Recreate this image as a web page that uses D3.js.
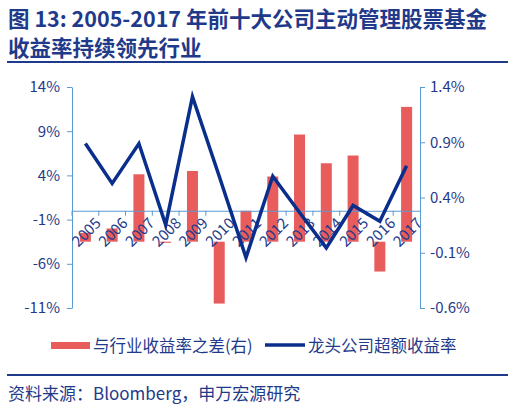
<!DOCTYPE html>
<html><head><meta charset="utf-8">
<script src="https://cdn.jsdelivr.net/npm/d3@7/dist/d3.min.js"></script>
<style>body{margin:0;background:#fff}text{font-family:"Noto Sans CJK SC","Noto Sans",sans-serif}</style>
</head><body><svg id="c" width="511" height="410"></svg>
<script>
const years = ["2005","2006","2007","2008","2009","2010","2011","2012","2013","2014","2015","2016","2017"];
const diffRight = [0.08,0.12,0.61,-0.01,0.64,-0.56,0.28,0.59,0.97,0.71,0.78,-0.27,1.22];
const excessLeft = [7.6,3.1,7.6,-1.6,12.9,3.9,-5.3,3.9,-0.2,-4.2,0.6,-1.2,5.1];
const leftTicks = [14,9,4,-1,-6,-11];
const rightTicks = [1.4,0.9,0.4,-0.1,-0.6];

const svg = d3.select("#c");
const navy = "#1f3a8a", axisC = "#5b9bd5";
const x = d3.scaleBand().domain(years).range([72,420]);
const yL = d3.scaleLinear().domain([-11,14]).range([308,87]);
const yR = d3.scaleLinear().domain([-0.6,1.4]).range([308,87]);

svg.append("text").attr("x",8).attr("y",27).attr("font-size",21.5).attr("font-weight","bold").attr("fill",navy).text("图 13: 2005-2017 年前十大公司主动管理股票基金");
svg.append("text").attr("x",8).attr("y",56).attr("font-size",21.5).attr("font-weight","bold").attr("fill",navy).text("收益率持续领先行业");
svg.append("line").attr("x1",7).attr("x2",508).attr("y1",62).attr("y2",62).attr("stroke",navy).attr("stroke-width",2);

svg.selectAll("rect.b").data(years).join("rect").attr("fill","#e85c5c")
  .attr("x",d=>x(d)+x.bandwidth()/2-5.5).attr("width",11)
  .attr("y",(d,i)=>Math.min(yR(diffRight[i]),yR(0))).attr("height",(d,i)=>Math.max(1,Math.abs(yR(diffRight[i])-yR(0))));

const la = svg.append("g").attr("transform","translate(72,0)").call(d3.axisLeft(yL).tickValues(leftTicks).tickFormat(d=>d+"%").tickSize(5).tickSizeOuter(0));
const ra = svg.append("g").attr("transform","translate(420,0)").call(d3.axisRight(yR).tickValues(rightTicks).tickFormat(d=>d.toFixed(1)+"%").tickSize(5).tickSizeOuter(0));
const xa = svg.append("g").attr("transform",`translate(0,${yL(0)})`).call(d3.axisBottom(x).tickSize(0).tickSizeOuter(0));
[la,ra,xa].forEach(g=>{g.select(".domain").attr("stroke",axisC);g.selectAll("line").attr("stroke",axisC);g.selectAll("text").attr("fill",navy).attr("font-size",15).attr("font-family","Noto Sans, sans-serif");});
la.selectAll("text").attr("x",-12);
ra.selectAll("text").attr("x",10);
xa.selectAll(".tick").each(function(){const t=d3.select(this).select("text");t.attr("y",0).attr("x",0).attr("text-anchor","end").attr("transform","translate(9,6) rotate(-45)").attr("dx",0).attr("dy","0.7em");});
svg.append("g").selectAll("line").data(years).join("line")
  .attr("x1",d=>x(d)).attr("x2",d=>x(d)).attr("y1",yL(0)).attr("y2",yL(0)+5).attr("stroke",axisC);

svg.append("path").datum(excessLeft).attr("fill","none").attr("stroke","#0a2e8c").attr("stroke-width",3.5).attr("stroke-linejoin","miter")
  .attr("d",d3.line().x((d,i)=>x(years[i])+x.bandwidth()/2).y(d=>yL(d)));

svg.append("rect").attr("x",51).attr("y",342).attr("width",39).attr("height",7).attr("fill","#e85c5c");
svg.append("text").attr("x",93).attr("y",352).attr("font-size",16.5).attr("fill",navy).text("与行业收益率之差(右)");
svg.append("line").attr("x1",265).attr("x2",305).attr("y1",345).attr("y2",345).attr("stroke","#0a2e8c").attr("stroke-width",3.5);
svg.append("text").attr("x",308).attr("y",352).attr("font-size",16.5).attr("fill",navy).text("龙头公司超额收益率");
svg.append("line").attr("x1",7).attr("x2",508).attr("y1",375).attr("y2",375).attr("stroke",navy).attr("stroke-width",2);
svg.append("text").attr("x",8).attr("y",400).attr("font-size",17).attr("fill",navy).text("资料来源：Bloomberg，申万宏源研究");
</script></body></html>
